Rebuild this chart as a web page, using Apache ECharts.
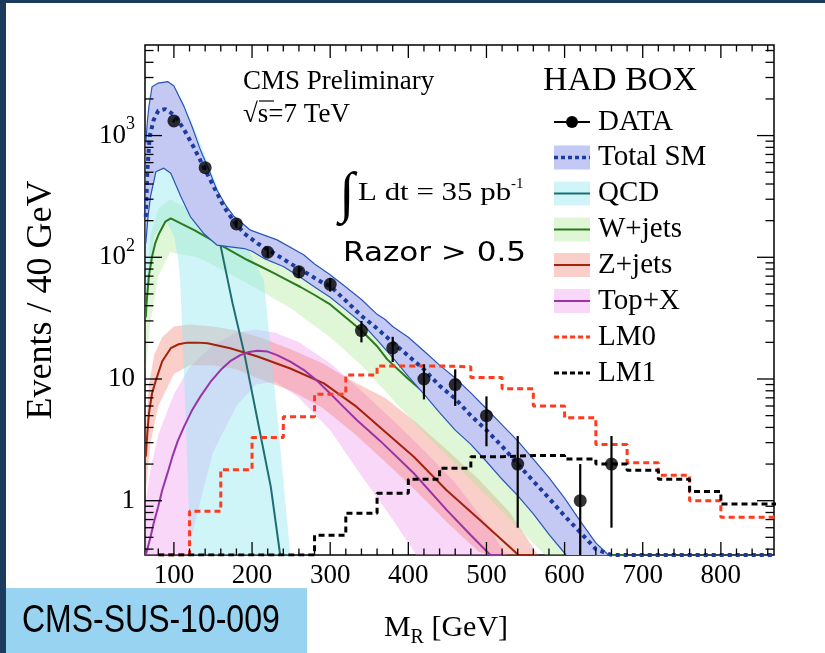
<!DOCTYPE html>
<html>
<head>
<meta charset="utf-8">
<script src="https://cdn.jsdelivr.net/npm/echarts@6/dist/echarts.min.js"></script>
<style>
  html, body { margin: 0; padding: 0; background: #fff; }
  #chart { width: 825px; height: 653px; }
</style>
</head>
<body>
<div id="chart"></div>
<script>
// Axis ranges (GeV on x, events per 40 GeV on a log y scale)
const X_MIN = 63, X_MAX = 868;
const Y_MIN = 0.358, Y_MAX = 5550;

// Observed events per 40 GeV bin
const dataX = [100, 140, 180, 220, 260, 300, 340, 380, 420, 460, 500, 540, 620, 660];
const dataN = [1320, 545, 188, 110, 76, 60, 25, 18, 10, 9, 5, 2, 1, 2];
const dataErr = [36, 23, 14, 10.5, 8.7, 7.7, 5, 4.2, 3.2, 3, 2.2, 1.4, 1, 1.4];

// Total SM prediction and its uncertainty band
const smX = [64, 66, 69, 74, 80, 89, 100, 112, 125, 138, 151, 164, 177, 190, 207, 228, 249, 270, 290, 300, 320, 340, 360, 380, 400, 420, 440, 460, 480, 500, 520, 540, 560, 580, 600, 620, 640, 660, 680, 720, 760, 800, 868];
const smY = [215, 520, 980, 1340, 1600, 1650, 1480, 1150, 810, 555, 380, 260, 196, 157, 130, 108, 89, 74, 62, 58, 44, 33, 26, 20, 15.5, 12, 8.8, 6.9, 5, 3.8, 2.8, 2.0, 1.45, 1.05, 0.75, 0.55, 0.4, 0.28, 0.2, 0.1, 0.05, 0.025, 0.008];
const smUpX = [64, 66, 68, 72, 80, 92, 100, 113, 124, 134, 145, 155, 166, 177, 198, 232, 266, 280, 300, 320, 340, 360, 370, 380, 400, 420, 440, 460, 480, 500, 520, 540, 560, 580, 600, 620, 640, 656];
const smUpY = [860, 1300, 1730, 2520, 2700, 2780, 2550, 1730, 1150, 760, 520, 357, 270, 216, 167, 139, 105, 88, 72, 57, 45, 34, 31, 27, 22, 17, 13, 10.2, 7.7, 5.7, 4.2, 3.1, 2.2, 1.55, 1.05, 0.68, 0.45, 0.33];
const smLoX = [64, 67, 70, 77, 87, 96, 109, 121, 138, 155, 172, 190, 200, 215, 240, 260, 280, 300, 320, 340, 360, 380, 400, 420, 440, 460, 480, 500, 520, 540, 560, 580, 602];
const smLoY = [130, 220, 315, 505, 540, 490, 315, 216, 157, 126, 122, 118, 112, 98, 84, 70, 57, 47, 37, 29, 21, 15, 10.5, 7.5, 5.3, 3.8, 2.9, 2.1, 1.5, 1.1, 0.78, 0.53, 0.34];

// QCD
const qcdX = [64, 67, 70, 76, 85, 92, 100, 112, 125, 138, 150, 160, 168, 175, 190, 207, 224, 236, 245];
const qcdY = [170, 500, 850, 1200, 1350, 1380, 1250, 950, 620, 380, 230, 122, 69, 42, 16.3, 4.6, 1.3, 0.35, 0.15];
const qcdUpX = [64, 70, 80, 92, 110, 130, 160, 185, 200, 215, 232, 249, 255];
const qcdUpY = [500, 1500, 2500, 2600, 2000, 1000, 320, 150, 100, 65, 5.2, 0.35, 0.2];
const qcdLoX = [64, 75, 90, 100, 105, 108, 115, 121, 123];
const qcdLoY = [40, 150, 200, 150, 100, 65, 5, 0.35, 0.2];

// W+jets
const wX = [64, 65, 68, 72, 76, 81, 89, 96, 110, 126, 143, 160, 177, 194, 211, 228, 245, 262, 280, 300, 320, 340, 360, 373, 400, 440, 480, 520, 560, 600, 640, 680];
const wY = [32, 42, 70, 101, 130, 157, 196, 209, 188, 167, 145, 126, 109, 95, 84, 74, 65, 57, 49, 41, 32, 25, 18.6, 14.5, 10, 6, 3.5, 2.0, 1.1, 0.6, 0.33, 0.18];
const wUpX = [64, 70, 80, 95, 130, 160, 200, 250, 300, 350, 400, 440, 480, 520, 560, 600, 640, 660];
const wUpY = [55, 150, 250, 300, 230, 170, 130, 95, 60, 33, 16, 9.5, 5.4, 3.0, 1.6, 0.85, 0.45, 0.32];
const wLoX = [64, 70, 80, 95, 130, 160, 200, 250, 300, 340, 380, 420, 460, 500, 540, 575];
const wLoY = [12, 30, 70, 110, 100, 80, 58, 38, 22, 13, 6.8, 3.6, 2.0, 1.1, 0.6, 0.33];

// Z+jets
const zX = [64, 66, 68, 72, 77, 85, 96, 106, 117, 130, 143, 172, 207, 249, 292, 334, 364, 407, 449, 492, 541, 560];
const zY = [2.3, 3.6, 5.2, 7.6, 9.8, 14, 17.9, 19.3, 19.9, 19.9, 19.7, 17.9, 15.3, 12.2, 9.2, 5.9, 4.0, 2.3, 1.22, 0.69, 0.35, 0.27];
const zUpX = [64, 68, 75, 85, 100, 120, 150, 180, 210, 250, 290, 330, 370, 410, 450, 490, 530, 566];
const zUpY = [4, 9, 16, 22, 27, 28, 27, 25, 22, 17.5, 13.5, 9.5, 7, 4.4, 2.6, 1.5, 0.8, 0.35];
const zLoX = [64, 70, 80, 100, 120, 150, 180, 210, 250, 290, 330, 370, 410, 450, 490, 505];
const zLoY = [1.2, 3, 6, 11, 13, 13, 12, 10, 8, 5.8, 3.6, 2.1, 1.2, 0.66, 0.38, 0.33];

// Top+X
const topX = [64, 66, 70, 74, 80, 85, 92, 98, 105, 113, 123, 134, 147, 160, 172, 185, 196, 207, 220, 232, 249, 266, 283, 300, 317, 334, 364, 407, 449, 480, 505, 520];
const topY = [0.28, 0.35, 0.5, 0.65, 0.9, 1.22, 1.7, 2.3, 3.1, 4.06, 5.5, 7.2, 9.5, 11.9, 14, 15.7, 16.7, 17.1, 16.8, 15.7, 13.9, 11.9, 9.7, 7.6, 5.9, 4.6, 3.1, 1.68, 0.84, 0.52, 0.35, 0.28];
const topUpX = [64, 70, 80, 100, 120, 150, 180, 205, 230, 260, 300, 340, 380, 420, 460, 500, 525];
const topUpY = [1.0, 1.8, 3.5, 7.5, 12.5, 19, 24, 25.5, 24, 20, 13.5, 8, 4.6, 2.6, 1.4, 0.65, 0.35];
const topLoX = [64, 110, 117, 130, 150, 180, 205, 230, 260, 300, 340, 380, 410];
const topLoY = [0.2, 0.3, 0.35, 0.8, 2.5, 6, 9, 9.5, 7, 3.8, 1.6, 0.7, 0.33];

// SUSY benchmark points, 40 GeV bins
const binEdges = [80, 120, 160, 200, 240, 280, 320, 360, 400, 440, 480, 520, 560, 600, 640, 680, 720, 760, 800, 840, 880];
const lm0 = [0, 0.82, 1.8, 3.3, 4.9, 7.5, 10.8, 12.8, 12.8, 12.6, 10.3, 8.3, 6.0, 4.8, 2.9, 2.05, 1.62, 1.0, 0.73, 0.73];
const lm1 = [0, 0, 0, 0, 0, 0.52, 0.79, 1.15, 1.5, 1.85, 2.3, 2.35, 2.35, 2.2, 2.0, 1.78, 1.5, 1.19, 0.94, 0.94];

// Colours
const C = {
  smFill: '#c4c9f4', smEdge: '#2a55b8', smLine: '#1b3c9e',
  qcdLine: '#1e6e6e', qcdFill: 'rgba(140,232,240,0.42)',
  wLine: '#2b7a1f', wFill: 'rgba(170,232,150,0.38)',
  zLine: '#a3220c', zFill: 'rgba(240,120,105,0.36)',
  topLine: '#9a32a8', topFill: 'rgba(240,150,240,0.38)',
  lm0: '#ff3b1e', lm1: '#000'
};
const SERIF = 'Liberation Serif, Times New Roman, serif';

// ROOT draws values under the axis floor along the floor itself
const clampY = v => Math.min(Math.max(v, Y_MIN), Y_MAX);
const clampX = x => Math.min(Math.max(x, X_MIN), X_MAX);
const curve = (xs, ys) => xs.map((x, i) => [x, clampY(ys[i])]);
const hist = (edges, vals) => {
  const out = [];
  vals.forEach((v, i) => { out.push([edges[i], clampY(v)], [edges[i + 1], clampY(v)]); });
  return out;
};

function band(name, upX, upY, loX, loY, fill, z) {
  return {
    type: 'custom', name, silent: true, z, data: [[100, 1]],
    renderItem: (p, api) => {
      const pts = [];
      upX.forEach((x, i) => pts.push(api.coord([clampX(x), clampY(upY[i])])));
      for (let i = loX.length - 1; i >= 0; i--) pts.push(api.coord([clampX(loX[i]), clampY(loY[i])]));
      return { type: 'polygon', shape: { points: pts }, style: { fill } };
    }
  };
}

function line(name, data, color, width, z, dash) {
  return {
    type: 'line', name, data, symbol: 'none', silent: true, clip: true, z,
    lineStyle: { color, width, type: dash || 'solid', cap: 'butt' }
  };
}

// inward ticks on all four sides of the frame
const ticksSeries = {
  type: 'custom', silent: true, z: 20, data: [[100, 1]],
  renderItem: (p, api) => {
    const kids = [];
    const seg = (x1, y1, x2, y2) => kids.push({ type: 'line', shape: { x1, y1, x2, y2 }, style: { stroke: '#000', lineWidth: 1.3 } });
    for (let x = 80; x <= 860; x += 20) {
      const major = x % 100 === 0;
      const len = major ? 13 : 6.5;
      const b = api.coord([x, Y_MIN]), t = api.coord([x, Y_MAX]);
      seg(b[0], b[1], b[0], b[1] - len);
      seg(t[0], t[1], t[0], t[1] + len);
    }
    for (let d = -1; d <= 3; d++) {
      for (let m = 1; m <= 9; m++) {
        const v = m * Math.pow(10, d);
        if (v < Y_MIN || v > Y_MAX) continue;
        const len = m === 1 ? 17 : 8.5;
        const l = api.coord([X_MIN, v]), r = api.coord([X_MAX, v]);
        seg(l[0], l[1], l[0] + len, l[1]);
        seg(r[0], r[1], r[0] - len, r[1]);
      }
    }
    return { type: 'group', children: kids };
  }
};

const errorBars = {
  type: 'custom', silent: true, z: 12,
  data: dataX.map((x, i) => [x, dataN[i], dataErr[i]]),
  renderItem: (p, api) => {
    const x = api.value(0), n = api.value(1), e = api.value(2);
    const a = api.coord([x, clampY(n + e)]), b = api.coord([x, clampY(n - e)]);
    return { type: 'line', shape: { x1: a[0], y1: a[1], x2: b[0], y2: b[1] }, style: { stroke: '#000', lineWidth: 2.2 } };
  }
};

// legend drawn as graphic elements
const legendRows = [
  { label: 'DATA', kind: 'data', y: 122 },
  { label: 'Total SM', kind: 'band', fill: C.smFill, stroke: C.smLine, dash: [4, 3], lw: 3.5, y: 157.5 },
  { label: 'QCD', kind: 'band', fill: C.qcdFill, stroke: C.qcdLine, lw: 2, y: 193.5 },
  { label: 'W+jets', kind: 'band', fill: C.wFill, stroke: C.wLine, lw: 2, y: 229.5 },
  { label: 'Z+jets', kind: 'band', fill: C.zFill, stroke: C.zLine, lw: 2, y: 265 },
  { label: 'Top+X', kind: 'band', fill: C.topFill, stroke: C.topLine, lw: 2, y: 301 },
  { label: 'LM0', kind: 'line', stroke: C.lm0, dash: [5, 3], lw: 3, y: 337 },
  { label: 'LM1', kind: 'line', stroke: C.lm1, dash: [5, 3], lw: 3, y: 373 }
];
const LX0 = 554, LX1 = 590, LTX = 598;
const legendEls = [];
legendRows.forEach(r => {
  if (r.kind === 'band') {
    legendEls.push({ type: 'rect', shape: { x: LX0, y: r.y - 12, width: LX1 - LX0, height: 24 }, style: { fill: r.fill } });
  }
  if (r.kind === 'data') {
    legendEls.push({ type: 'line', shape: { x1: LX0, y1: r.y, x2: LX1, y2: r.y }, style: { stroke: '#000', lineWidth: 2 } });
    legendEls.push({ type: 'circle', shape: { cx: (LX0 + LX1) / 2, cy: r.y, r: 6 }, style: { fill: '#000' } });
  } else {
    legendEls.push({ type: 'line', shape: { x1: LX0, y1: r.y, x2: LX1, y2: r.y }, style: { stroke: r.stroke, lineWidth: r.lw, lineDash: r.dash || null } });
  }
  legendEls.push({ type: 'text', x: LTX, y: r.y, style: { text: r.label, fontFamily: SERIF, fontSize: 29, fill: '#000', verticalAlign: 'middle', textVerticalAlign: 'middle' } });
});

const txt = (x, y, text, size, extra) => Object.assign({
  type: 'text', x, y,
  style: Object.assign({ text, fontFamily: SERIF, fontSize: size, fill: '#000', verticalAlign: 'middle', textVerticalAlign: 'middle' }, (extra && extra.style) || {})
}, (extra && extra.el) || {});

const graphics = [
  // page border
  { type: 'rect', shape: { x: 0, y: 0, width: 6, height: 653 }, style: { fill: '#1d3b5c' } },
  { type: 'rect', shape: { x: 0, y: 0, width: 825, height: 3 }, style: { fill: '#1d3b5c' } },
  // report number tag
  { type: 'rect', shape: { x: 6, y: 588, width: 301, height: 65 }, style: { fill: '#98d4f2' } },
  txt(22, 621, 'CMS-SUS-10-009', 39, { style: { fontFamily: 'Liberation Sans, Arial, sans-serif' }, el: { scaleX: 0.82 } }),
  // header texts
  txt(243, 82, 'CMS Preliminary', 27),
  txt(243, 115, '√s=7 TeV', 27),
  { type: 'line', shape: { x1: 259, y1: 101, x2: 274, y2: 101 }, style: { stroke: '#000', lineWidth: 1.2 } },
  txt(339, 196, '∫', 56),
  txt(358, 193, 'L dt = 35 pb', 26, { el: { scaleX: 1.19 } }),
  txt(511, 184, '-1', 15),
  txt(343, 254, 'Razor > 0.5', 27, { style: { fontFamily: 'DejaVu Sans, sans-serif' }, el: { scaleX: 1.15 } }),
  txt(543, 81, 'HAD BOX', 34),
  // axis titles
  txt(42, 300, 'Events / 40 GeV', 36, { style: { align: 'center', textAlign: 'center' }, el: { rotation: Math.PI / 2 } }),
  {
    type: 'text', x: 446, y: 628,
    style: {
      text: '{m|M}{s|R}{m| [GeV]}', align: 'center', textAlign: 'center', verticalAlign: 'middle', textVerticalAlign: 'middle',
      rich: {
        m: { fontFamily: SERIF, fontSize: 30, fill: '#000', lineHeight: 40 },
        s: { fontFamily: SERIF, fontSize: 20, fill: '#000', lineHeight: 40, verticalAlign: 'bottom' }
      }
    }
  }
].concat(legendEls).map(g => Object.assign({ z: 100 }, g));

const option = {
  animation: false,
  backgroundColor: '#fff',
  grid: {
    left: 145, right: 51, top: 45, bottom: 98,
    containLabel: false, outerBoundsMode: 'none',
    show: true, borderColor: '#000', borderWidth: 1.5, backgroundColor: 'transparent'
  },
  xAxis: {
    type: 'value', min: X_MIN, max: X_MAX, splitNumber: 8,
    axisLine: { show: false }, axisTick: { show: false }, splitLine: { show: false },
    axisLabel: {
      showMinLabel: false, showMaxLabel: false, margin: 7,
      fontFamily: SERIF, fontSize: 27, color: '#000',
      formatter: v => (Math.abs(v % 100) < 1e-6 ? String(v) : '')
    }
  },
  yAxis: {
    type: 'log', logBase: 10, min: Y_MIN, max: Y_MAX,
    axisLine: { show: false }, axisTick: { show: false }, splitLine: { show: false },
    axisLabel: {
      showMinLabel: false, showMaxLabel: false, margin: 10,
      formatter: v => {
        const l = Math.log10(v), e = Math.round(l);
        if (Math.abs(l - e) > 1e-6) return '';
        if (e === 0) return '{b|1}';
        if (e === 1) return '{b|10}';
        return '{b|10}{s|' + e + '}';
      },
      rich: {
        b: { fontFamily: SERIF, fontSize: 27, color: '#000', lineHeight: 40 },
        s: { fontFamily: SERIF, fontSize: 18, color: '#000', lineHeight: 40, verticalAlign: 'top' }
      }
    }
  },
  series: [
    band('Top+X band', topUpX, topUpY, topLoX, topLoY, C.topFill, 2),
    band('Z+jets band', zUpX, zUpY, zLoX, zLoY, C.zFill, 2),
    band('W+jets band', wUpX, wUpY, wLoX, wLoY, C.wFill, 2),
    band('QCD band', qcdUpX, qcdUpY, qcdLoX, qcdLoY, C.qcdFill, 2),
    line('QCD', curve(qcdX, qcdY), C.qcdLine, 2, 3),
    line('W+jets', curve(wX, wY), C.wLine, 2, 3),
    line('Z+jets', curve(zX, zY), C.zLine, 2, 3),
    line('Top+X', curve(topX, topY), C.topLine, 2, 3),
    band('Total SM band', smUpX, smUpY, smLoX, smLoY, C.smFill, 5),
    line('Total SM up', curve(smUpX, smUpY), C.smEdge, 1.2, 6),
    line('Total SM down', curve(smLoX, smLoY), C.smEdge, 1.2, 6),
    line('Total SM', curve(smX, smY), C.smLine, 4, 7, [4, 4]),
    line('LM0', hist(binEdges, lm0), C.lm0, 3, 8, [6, 4]),
    line('LM1', hist(binEdges, lm1), C.lm1, 3, 9, [6, 4]),
    errorBars,
    {
      type: 'scatter', name: 'DATA', silent: true, z: 13,
      data: dataX.map((x, i) => [x, dataN[i]]),
      symbol: 'circle', symbolSize: 13, itemStyle: { color: '#000' }
    },
    ticksSeries
  ],
  graphic: graphics
};

const chart = echarts.init(document.getElementById('chart'));
chart.setOption(option);
</script>
</body>
</html>
